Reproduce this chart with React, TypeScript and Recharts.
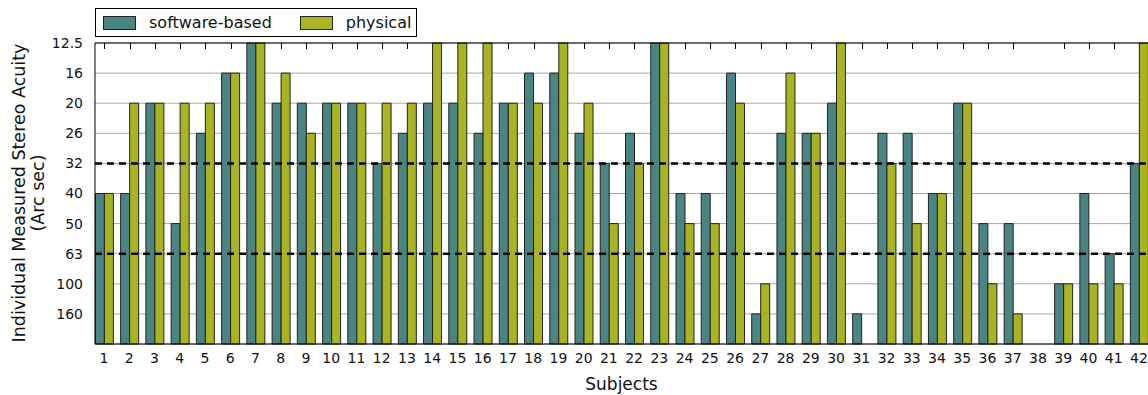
import { BarChart, Bar, XAxis, YAxis, CartesianGrid, ReferenceLine } from "recharts"

// acuity levels, bottom to top (index = bar height)
const levels = ["", "160", "100", "63", "50", "40", "32", "26", "20", "16", "12.5"]

const subjects = Array.from({ length: 42 }, (_, i) => String(i + 1))

// measured acuity in arc sec, "" = no measurement
const software = [
  "40", "40", "20", "50", "26", "16", "12.5", "20", "20", "20", "20", "32", "26", "20",
  "20", "26", "20", "16", "16", "26", "32", "26", "12.5", "40", "40", "16", "160", "26",
  "26", "20", "160", "26", "26", "40", "20", "50", "50", "", "100", "40", "63", "32",
]
const physical = [
  "40", "20", "20", "20", "20", "16", "12.5", "16", "26", "20", "20", "20", "20", "12.5",
  "12.5", "12.5", "20", "20", "12.5", "20", "50", "32", "12.5", "50", "50", "20", "100", "16",
  "26", "12.5", "", "32", "50", "40", "20", "100", "160", "", "100", "100", "100", "12.5",
]

const thresholds = ["32", "63"]

const chartData = subjects.map((s, i) => ({
  subject: s,
  software: levels.indexOf(software[i]),
  physical: levels.indexOf(physical[i]),
}))

const FONT = "DejaVu Sans, sans-serif"
const TEAL = "#4a8584"
const OLIVE = "#aab423"
const TOP = levels.length - 1

function LegendBox() {
  const item = (color: string, text: string) => (
    <div style={{ display: "flex", alignItems: "center" }}>
      <div style={{ width: 31, height: 12, background: color, border: "1px solid #222", marginRight: 13 }} />
      <span>{text}</span>
    </div>
  )
  return (
    <div
      style={{
        position: "absolute",
        left: 95,
        top: 8,
        display: "flex",
        alignItems: "center",
        border: "1px solid #000",
        background: "#fff",
        width: 322,
        height: 29,
        boxSizing: "border-box",
        paddingLeft: 7,
        fontFamily: FONT,
        fontSize: 16,
        color: "#111",
      }}
    >
      {item(TEAL, "software-based")}
      <div style={{ width: 28 }} />
      {item(OLIVE, "physical")}
    </div>
  )
}

// the teal bar's background slot: its right edge is the group centre,
// so a short inward tick is drawn there from the top spine
const TopTick = (props: any) => {
  const { x, y, width } = props
  if (x == null || y == null) return <g />
  const tx = Math.round(x + width) + 0.5
  return <path d={`M${tx},${y}v6`} stroke="#000" strokeWidth={1} fill="none" />
}

export default function App() {
  return (
    <div style={{ position: "absolute", left: 0, top: 0, width: 1148, height: 395, overflow: "hidden", background: "#fff" }}>
      <BarChart
        width={1148}
        height={395}
        data={chartData}
        margin={{ top: 43, right: 0, left: 0, bottom: 0 }}
        barGap={0}
        barSize={9}
      >
        <CartesianGrid horizontal={true} vertical={false} stroke="#a8a8a8" strokeWidth={1} />
        <XAxis
          dataKey="subject"
          height={51}
          interval={0}
          padding={{ left: -3.6, right: -3.6 }}
          stroke="#000"
          tickLine={false}
          tick={{ fill: "#111", fontSize: 14, fontFamily: FONT }}
          tickMargin={3}
          label={{ value: "Subjects", position: "insideBottom", offset: 5, fill: "#111", fontSize: 17, fontFamily: FONT }}
        />
        <YAxis
          type="number"
          domain={[0, TOP]}
          ticks={[0, 1, 2, 3, 4, 5, 6, 7, 8, 9, 10]}
          interval={0}
          width={95}
          stroke="#000"
          tickLine={false}
          tickFormatter={(v: number) => levels[v]}
          tick={{ fill: "#111", fontSize: 14, fontFamily: FONT }}
          tickMargin={6}
          label={{
            content: () => (
              <g fontFamily={FONT} fontSize={17.5} fill="#111" textAnchor="middle">
                <text transform="translate(25,193) rotate(-90)">Individual Measured Stereo Acuity</text>
                <text transform="translate(44,193) rotate(-90)">(Arc sec)</text>
              </g>
            ),
          }}
        />
        <ReferenceLine y={TOP} stroke="#000" strokeWidth={1} />
        <Bar
          dataKey="software"
          fill={TEAL}
          stroke="#222"
          strokeWidth={1}
          background={(p: any) => <TopTick key={"bg" + p.index} {...p} />}
          isAnimationActive={false}
        />
        <Bar dataKey="physical" fill={OLIVE} stroke="#222" strokeWidth={1} isAnimationActive={false} />
        {thresholds.map((t) => (
          <ReferenceLine
            key={t}
            y={levels.indexOf(t)}
            stroke="#000"
            strokeWidth={2.5}
            strokeDasharray="7 5"
          />
        ))}
      </BarChart>
      <LegendBox />
    </div>
  )
}
